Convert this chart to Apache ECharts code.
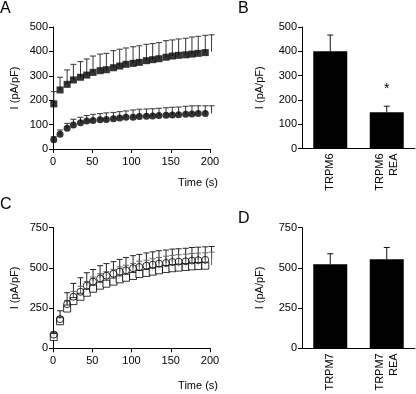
<!DOCTYPE html>
<html>
<head>
<meta charset="utf-8">
<script src="https://cdn.jsdelivr.net/npm/echarts@6/dist/echarts.min.js"></script>
<style>
  html, body { margin: 0; padding: 0; background: #fff; }
  #chart { width: 416px; height: 394px; }
</style>
</head>
<body>
<div id="chart"></div>
<script>
// time points (s), shared by panels A and C
const times = [1, 9, 18, 26, 35, 43, 51, 60, 68, 77, 85, 93, 102, 110, 119, 127, 135, 144, 152, 160, 169, 177, 185, 194, 202];

// panel A
const trpm6 = [185, 242, 265, 283, 294, 303, 314, 321, 325, 333, 340, 347, 351, 355, 362, 366, 370, 376, 381, 384, 386, 389, 392, 395, 399];
const trpm6Err = [50, 52, 59, 64, 64, 66, 67, 68, 67, 70, 69, 67, 68, 68, 67, 66, 66, 68, 66, 67, 68, 70, 70, 71, 69];
const trpm6Rea = [38, 60, 85, 98, 108, 115, 117, 120, 121, 124, 127, 130, 130, 133, 134, 135, 137, 138, 139, 140, 142, 143, 145, 145, 146];
const trpm6ReaErr = [12, 18, 20, 24, 22, 22, 25, 25, 27, 26, 26, 26, 30, 30, 30, 30, 30, 31, 32, 32, 33, 34, 32, 32, 31];

// panel B
const catsB = ["TRPM6", "TRPM6\nREA"];
const barB = [400, 149];
const barBErr = [67, 25];
const sigB = ["", "*"];

// panel C
const trpm7 = [70, 168, 247, 293, 320, 345, 370, 389, 401, 414, 428, 438, 449, 461, 468, 476, 484, 492, 497, 501, 505, 509, 511, 513, 517];
const trpm7Err = [12, 30, 50, 60, 65, 70, 72, 74, 75, 76, 77, 78, 78, 79, 79, 80, 80, 80, 80, 80, 80, 80, 80, 80, 80];
const trpm7Rea = [85, 181, 274, 320, 351, 389, 414, 434, 451, 463, 476, 484, 497, 505, 513, 519, 526, 530, 536, 538, 540, 545, 547, 549, 551];
const trpm7ReaErr = [15, 52, 71, 83, 87, 80, 75, 79, 75, 75, 76, 80, 78, 78, 79, 80, 80, 80, 80, 80, 81, 81, 81, 81, 81];

// panel D
const catsD = ["TRPM7", "TRPM7\nREA"];
const barD = [522, 553];
const barDErr = [65, 73];

const FONT = "Liberation Sans, Arial, sans-serif";
const black = "#000";

const chart = echarts.init(document.getElementById("chart"));

// error bar: stem from value up to value+err, with cap
const errRender = (capW, color) => (params, api) => {
  const p0 = api.coord([api.value(0), api.value(1)]);
  const p1 = api.coord([api.value(0), api.value(2)]);
  const st = { stroke: color, lineWidth: 1 };
  const children = [
    { type: "line", shape: { x1: p0[0], y1: p0[1], x2: p1[0], y2: p1[1] }, style: st },
    { type: "line", shape: { x1: p1[0] - capW / 2, y1: p1[1], x2: p1[0] + capW / 2, y2: p1[1] }, style: st },
  ];
  const mark = api.value(3);
  if (mark) {
    children.push({
      type: "text",
      style: { text: "*", x: p1[0], y: p1[1] - 17, align: "center", verticalAlign: "middle", font: "14px " + FONT, fill: black },
    });
  }
  return { type: "group", children };
};

const errData = (xs, vals, errs, marks) =>
  vals.map((v, i) => [xs[i], v, v + errs[i], marks ? (marks[i] ? 1 : 0) : 0]);

const valueAxisX = (gi) => ({
  type: "value",
  gridIndex: gi,
  min: 0,
  max: 200,
  interval: 50,
  axisLine: { lineStyle: { color: black } },
  axisTick: { length: 4, lineStyle: { color: black } },
  axisLabel: { color: black, fontSize: 11, fontFamily: FONT, margin: 7 },
  splitLine: { show: false },
});

const catAxisX = (gi, cats) => ({
  type: "category",
  gridIndex: gi,
  data: cats,
  axisLine: { lineStyle: { color: black } },
  axisTick: { show: false },
  axisLabel: { color: black, fontSize: 11, fontFamily: FONT, rotate: 90, margin: 5, lineHeight: 14 },
});

const yAxisOf = (gi, max, interval, gap) => ({
  type: "value",
  gridIndex: gi,
  min: 0,
  max,
  interval,
  name: "I (pA/pF)",
  nameLocation: "middle",
  nameGap: gap,
  nameTextStyle: { color: black, fontSize: 11, fontFamily: FONT },
  axisLine: { show: true, lineStyle: { color: black } },
  axisTick: { show: true, length: 4, lineStyle: { color: black } },
  axisLabel: { color: black, fontSize: 11, fontFamily: FONT, margin: 5 },
  splitLine: { show: false },
});

const option = {
  animation: false,
  backgroundColor: "#fff",
  textStyle: { fontFamily: FONT },
  grid: [
    { left: 53, right: 206, top: 27, bottom: 245 },
    { left: 302, right: 1, top: 27, bottom: 245.5 },
    { left: 53, right: 206, top: 227.5, bottom: 45.7 },
    { left: 302, right: 1, top: 227.5, bottom: 45.7 },
  ],
  xAxis: [valueAxisX(0), catAxisX(1, catsB), valueAxisX(2), catAxisX(3, catsD)],
  yAxis: [yAxisOf(0, 500, 100, 33), yAxisOf(1, 500, 100, 37), yAxisOf(2, 750, 250, 33), yAxisOf(3, 750, 250, 37)],
  graphic: [
    { type: "text", left: 0, top: 1, style: { text: "A", font: "16px " + FONT, fill: black } },
    { type: "text", left: 238, top: 1, style: { text: "B", font: "16px " + FONT, fill: black } },
    { type: "text", left: 0, top: 197, style: { text: "C", font: "16px " + FONT, fill: black } },
    { type: "text", left: 238, top: 211, style: { text: "D", font: "16px " + FONT, fill: black } },
    { type: "text", right: 198, top: 177, style: { text: "Time (s)", font: "11px " + FONT, fill: black } },
    { type: "text", right: 198, top: 380, style: { text: "Time (s)", font: "11px " + FONT, fill: black } },
  ],
  series: [
    // A
    { type: "custom", xAxisIndex: 0, yAxisIndex: 0, renderItem: errRender(6, "#333"), data: errData(times, trpm6, trpm6Err), z: 2 },
    { type: "custom", xAxisIndex: 0, yAxisIndex: 0, renderItem: errRender(6, "#333"), data: errData(times, trpm6Rea, trpm6ReaErr), z: 2 },
    { type: "scatter", xAxisIndex: 0, yAxisIndex: 0, symbol: "rect", symbolSize: 7, itemStyle: { color: black }, data: times.map((t, i) => [t, trpm6[i]]), z: 3 },
    { type: "scatter", xAxisIndex: 0, yAxisIndex: 0, symbol: "circle", symbolSize: 7, itemStyle: { color: black }, data: times.map((t, i) => [t, trpm6Rea[i]]), z: 3 },
    // B
    { type: "bar", xAxisIndex: 1, yAxisIndex: 1, barWidth: 34, itemStyle: { color: black }, data: barB, z: 2 },
    { type: "custom", xAxisIndex: 1, yAxisIndex: 1, renderItem: errRender(6, "#111"), data: errData([0, 1], barB, barBErr, sigB), z: 3 },
    // C
    { type: "custom", xAxisIndex: 2, yAxisIndex: 2, renderItem: errRender(6, "#222"), data: errData(times, trpm7Rea, trpm7ReaErr), z: 2 },
    { type: "custom", xAxisIndex: 2, yAxisIndex: 2, renderItem: errRender(6, "#666"), data: errData(times, trpm7, trpm7Err), z: 2 },
    { type: "scatter", xAxisIndex: 2, yAxisIndex: 2, symbol: "rect", symbolSize: 7, itemStyle: { color: "#fff", borderColor: black, borderWidth: 1 }, data: times.map((t, i) => [t, trpm7[i]]), z: 3 },
    { type: "scatter", xAxisIndex: 2, yAxisIndex: 2, symbol: "circle", symbolSize: 7, itemStyle: { color: "rgba(0,0,0,0)", borderColor: black, borderWidth: 1 }, data: times.map((t, i) => [t, trpm7Rea[i]]), z: 4 },
    // D
    { type: "bar", xAxisIndex: 3, yAxisIndex: 3, barWidth: 34, itemStyle: { color: black }, data: barD, z: 2 },
    { type: "custom", xAxisIndex: 3, yAxisIndex: 3, renderItem: errRender(6, "#111"), data: errData([0, 1], barD, barDErr), z: 3 },
  ],
};

chart.setOption(option);
</script>
</body>
</html>
